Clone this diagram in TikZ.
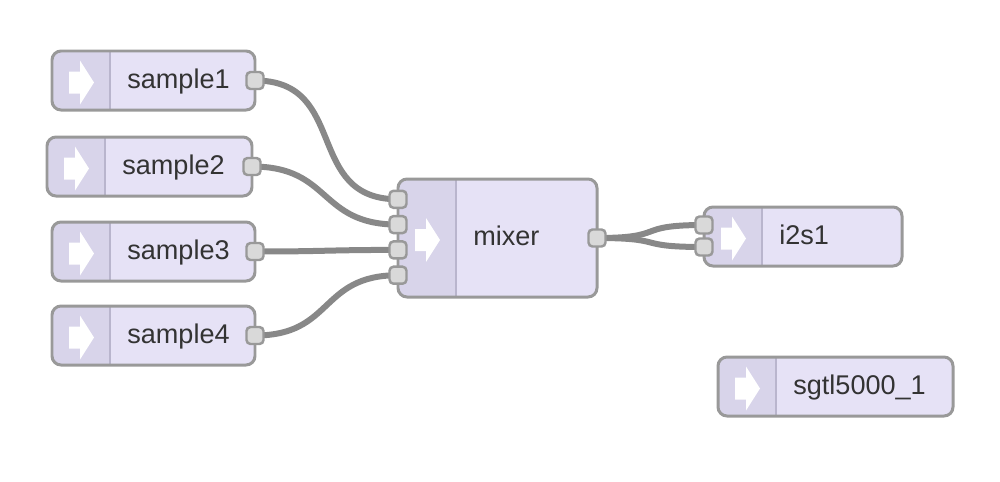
\documentclass[tikz,border=0pt]{standalone}
\usepackage{fontspec}
\setmainfont{Liberation Sans}
\usetikzlibrary{backgrounds}

\definecolor{nodefill}{RGB}{230,226,246}
\definecolor{iconfill}{RGB}{216,212,234}
\definecolor{divline}{RGB}{185,181,205}
\definecolor{nodeborder}{RGB}{153,153,153}
\definecolor{portfill}{RGB}{217,217,217}
\definecolor{wirecol}{RGB}{136,136,136}
\definecolor{labeltext}{RGB}{51,51,51}

% name, left, top, width, height, label
\newcommand{\audioblock}[6]{%
  \node[flowbox, minimum width=#4*0.02cm, minimum height=#5*0.02cm] (#1) at (#2,#3) {};
  \fill[white] (#2+17,#3+#5/2-9) -- ++(11,0) -- ++(0,-11) -- ++(14,22)
    -- ++(-14,22) -- ++(0,-11) -- ++(-11,0) -- cycle;
  \node[flowlabel] (#1-label) at (#2+75,#3+#5/2+3) {#6};
}

\begin{document}
\begin{tikzpicture}[x=0.02cm, y=-0.02cm,
    flowbox/.style={draw=nodeborder, fill=nodefill, line width=1.7pt,
      rounded corners=0.18cm, anchor=north west, inner sep=0pt, outer sep=0pt,
      path picture={
        \fill[iconfill, sharp corners] (path picture bounding box.north west)
          rectangle ([xshift=1.16cm]path picture bounding box.south west);
        \draw[divline, sharp corners, line width=1pt]
          ([xshift=1.16cm]path picture bounding box.north west)
          -- ([xshift=1.16cm]path picture bounding box.south west);
      }},
    flowlabel/.style={anchor=mid west, inner sep=0pt, text=labeltext,
      font=\fontsize{15.4}{18}\selectfont},
    port/.style={draw=nodeborder, fill=portfill, line width=1.4pt,
      rounded corners=0.08cm, minimum size=0.34cm, inner sep=0pt},
    wire/.style={draw=wirecol, line width=0.12cm}]

  \useasboundingbox (0,0) rectangle (1000,481);

  \audioblock{sample1}{52}{51}{203}{59}{sample1}
  \audioblock{sample2}{47}{137}{205}{59}{sample2}
  \audioblock{sample3}{52}{222}{203}{59}{sample3}
  \audioblock{sample4}{52}{306}{203}{59}{sample4}
  \audioblock{mixer}{398}{179}{199}{118}{mixer}
  \audioblock{i2s1}{704}{207}{198}{59}{i2s1}
  \audioblock{sgtl}{718}{357}{235}{59}{sgtl5000\_1}

  \foreach \s in {1,...,4} { \node[port] (sample\s-out) at (sample\s.east) {}; }
  \foreach \k in {1,...,4} { \node[port] (mixer-in\k) at (398,{174+25.3*\k}) {}; }
  \node[port] (mixer-out) at (mixer.east) {};
  \node[port] (i2s1-in1) at (704,225) {};
  \node[port] (i2s1-in2) at (704,247) {};

  \begin{scope}[on background layer]
    \foreach \s in {1,...,4}
      { \draw[wire] (sample\s-out.center) to[out=0, in=180, looseness=1.3] (mixer-in\s.center); }
    \foreach \k in {1,2}
      { \draw[wire] (mixer-out.center) to[out=0, in=180, looseness=1.7] (i2s1-in\k.center); }
  \end{scope}
\end{tikzpicture}
\end{document}
